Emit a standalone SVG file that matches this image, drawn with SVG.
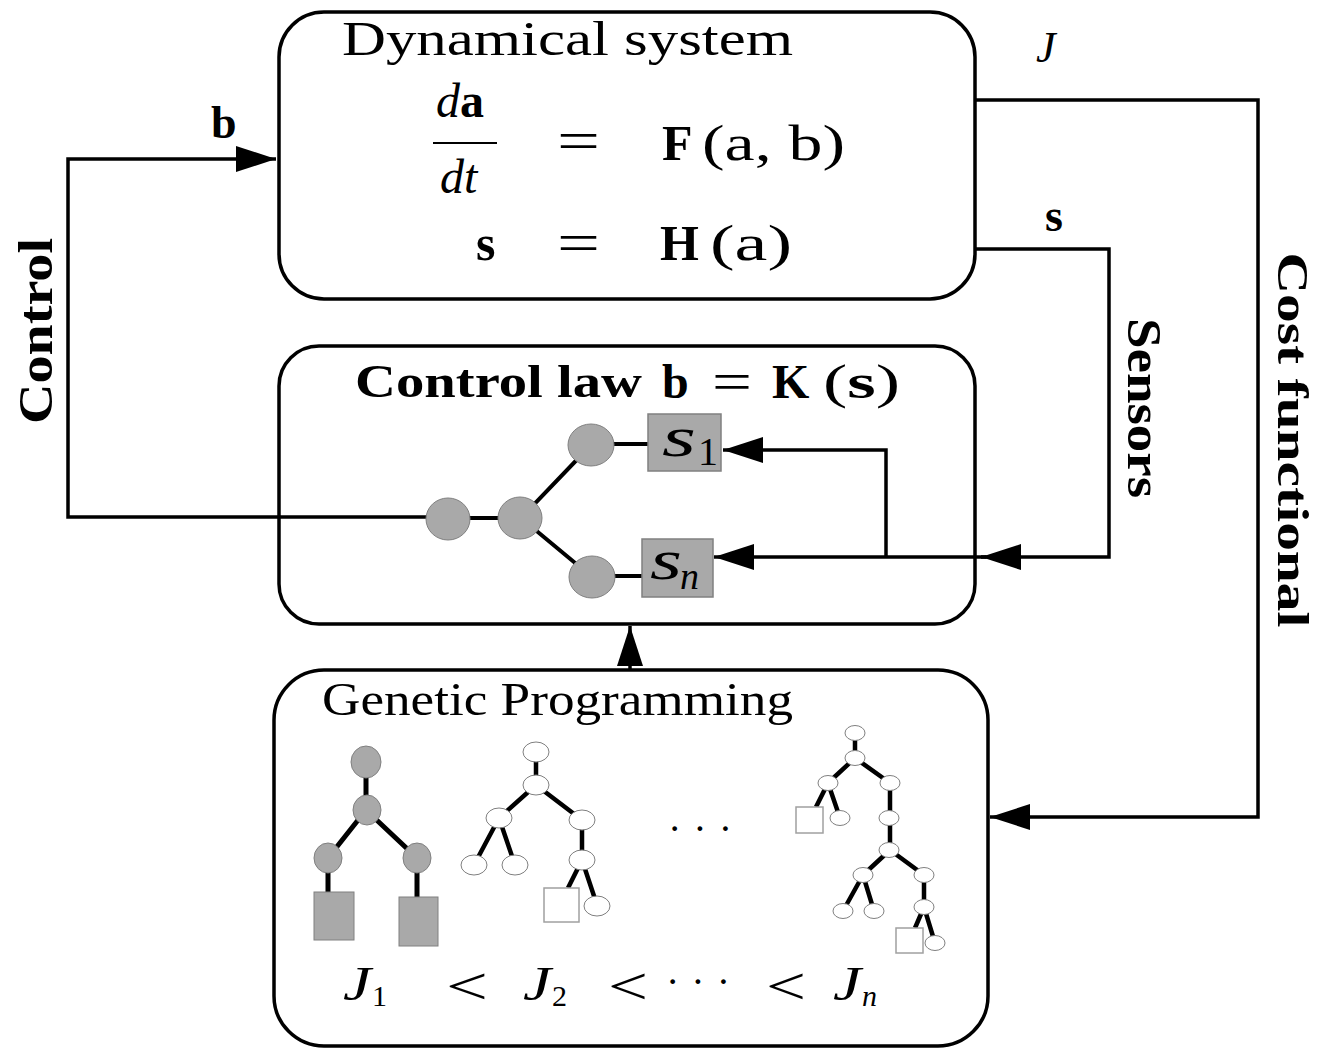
<svg xmlns="http://www.w3.org/2000/svg" width="1317" height="1048" viewBox="0 0 1317 1048">
<style>
.box{fill:none;stroke:#000;stroke-width:3.5}
.con{fill:none;stroke:#000;stroke-width:3.5}
.t{font-family:"Liberation Serif","Times New Roman",serif;fill:#000}
.b{font-weight:bold}
.i{font-style:italic}
.gn{fill:#a9a9a9;stroke:#808080;stroke-width:1}
.wn{fill:#fff;stroke:#808080;stroke-width:1}
.ws{fill:#fff;stroke:#a0a0a0;stroke-width:1.5}
.e1{stroke:#000;stroke-width:4;fill:none}
.e2{stroke:#000;stroke-width:5;fill:none}
.e3{stroke:#000;stroke-width:4.5;fill:none}
</style>
<defs>
<marker id="ah" viewBox="0 0 40 26" refX="40" refY="13" markerUnits="userSpaceOnUse" markerWidth="40" markerHeight="26" orient="auto">
<path d="M0,0 L40,13 L0,26 z" fill="#000"/>
</marker>
</defs>
<rect width="1317" height="1048" fill="#fff"/>

<g id="connectors">
<path class="con" d="M449,517 H68 V159 H276" marker-end="url(#ah)"/>
<path class="con" d="M975,100 H1258 V817 H990" marker-end="url(#ah)"/>
<path class="con" d="M975,249 H1109 V557 H981" marker-end="url(#ah)"/>
<path class="con" d="M986,557 H714" marker-end="url(#ah)"/>
<path class="con" d="M886,557 V450 H723" marker-end="url(#ah)"/>
<path class="con" d="M630,670 V626" marker-end="url(#ah)"/>
</g>

<g id="labels">
<text class="t b" x="211" y="138" font-size="46">b</text>
<text class="t i" x="1036" y="62" font-size="44">J</text>
<text class="t b" x="1045" y="231" font-size="46">s</text>
<text class="t b" font-size="48" text-anchor="middle" transform="translate(52,331) rotate(-90)" textLength="186" lengthAdjust="spacingAndGlyphs">Control</text>
<text class="t b" font-size="48" text-anchor="middle" transform="translate(1128,408) rotate(90)" textLength="180" lengthAdjust="spacingAndGlyphs">Sensors</text>
<text class="t b" font-size="45" text-anchor="middle" transform="translate(1278,440) rotate(90)" textLength="375" lengthAdjust="spacingAndGlyphs">Cost functional</text>
</g>

<g id="dynamical-system">
<rect class="box" x="279" y="12" width="696" height="287" rx="45" ry="45"/>
<text class="t" x="342" y="55" font-size="48" textLength="451" lengthAdjust="spacingAndGlyphs">Dynamical system</text>
<text class="t" x="436" y="117" font-size="48"><tspan class="i">d</tspan><tspan class="b">a</tspan></text>
<line x1="433" y1="143" x2="497" y2="143" stroke="#000" stroke-width="2"/>
<text class="t i" x="440" y="193" font-size="48">dt</text>
<text class="t" x="557" y="160" font-size="56" textLength="43" lengthAdjust="spacingAndGlyphs">=</text>
<text class="t b" x="662" y="160" font-size="50">F</text>
<text class="t" x="702" y="160" font-size="50" textLength="143" lengthAdjust="spacingAndGlyphs">(a, b)</text>
<text class="t b" x="476" y="260" font-size="50">s</text>
<text class="t" x="557" y="262" font-size="56" textLength="43" lengthAdjust="spacingAndGlyphs">=</text>
<text class="t b" x="660" y="260" font-size="50">H</text>
<text class="t" x="710" y="260" font-size="50" textLength="82" lengthAdjust="spacingAndGlyphs">(a)</text>
</g>

<g id="control-law">
<rect class="box" x="279" y="346" width="696" height="278" rx="40" ry="40"/>
<text class="t b" x="355" y="397" font-size="46" textLength="287" lengthAdjust="spacingAndGlyphs">Control law</text>
<text class="t b" x="662" y="398" font-size="48">b</text>
<text class="t" x="712" y="400" font-size="54" textLength="40" lengthAdjust="spacingAndGlyphs">=</text>
<text class="t b" x="772" y="398" font-size="48">K</text>
<text class="t" x="823" y="398" font-size="48" textLength="77" lengthAdjust="spacingAndGlyphs">(<tspan class="b">s</tspan>)</text>
<path class="e1" d="M449,518 H521 M521,518 L591,445 M521,518 L592,577 M591,444 H648 M592,576 H642"/>
<ellipse class="gn" cx="448" cy="519" rx="22" ry="21"/>
<ellipse class="gn" cx="520" cy="518" rx="22" ry="21"/>
<ellipse class="gn" cx="591" cy="445" rx="23" ry="21"/>
<ellipse class="gn" cx="592" cy="577" rx="23" ry="21"/>
<rect x="648" y="414" width="73" height="57" fill="#a9a9a9" stroke="#808080" stroke-width="1.5"/>
<text class="t i" x="662" y="456" font-size="58" textLength="34" lengthAdjust="spacingAndGlyphs">s</text>
<text class="t" x="698" y="465" font-size="40">1</text>
<rect x="642" y="539" width="71" height="58" fill="#a9a9a9" stroke="#808080" stroke-width="1.5"/>
<text class="t i" x="650" y="579" font-size="58" textLength="32" lengthAdjust="spacingAndGlyphs">s</text>
<text class="t i" x="680" y="589" font-size="38">n</text>
</g>

<g id="genetic-programming">
<rect class="box" x="274" y="670" width="714" height="376" rx="50" ry="50"/>
<text class="t" x="322" y="715" font-size="46" textLength="471" lengthAdjust="spacingAndGlyphs">Genetic Programming</text>
<!-- tree 1 -->
<path class="e2" d="M366,762 V810 M366,810 L328,858 M366,810 L417,858 M328,858 V892 M417,858 V897"/>
<ellipse class="gn" cx="366" cy="762" rx="15" ry="16"/>
<ellipse class="gn" cx="367" cy="810" rx="14" ry="15"/>
<ellipse class="gn" cx="328" cy="858" rx="14" ry="15"/>
<ellipse class="gn" cx="417" cy="858" rx="14" ry="15"/>
<rect class="gn" x="314" y="892" width="40" height="48"/>
<rect class="gn" x="399" y="897" width="39" height="49"/>
<!-- tree 2 -->
<path class="e3" d="M536,752 V785 M536,785 L499,818 M536,785 L582,820 M499,818 L474,865 M499,818 L515,865 M582,820 V860 M582,860 L568,888 M582,860 L597,905"/>
<ellipse class="wn" cx="536" cy="752" rx="13" ry="10"/>
<ellipse class="wn" cx="536" cy="785" rx="13" ry="10"/>
<ellipse class="wn" cx="499" cy="818" rx="13" ry="10"/>
<ellipse class="wn" cx="582" cy="820" rx="13" ry="10"/>
<ellipse class="wn" cx="474" cy="865" rx="13" ry="10"/>
<ellipse class="wn" cx="515" cy="865" rx="13" ry="10"/>
<ellipse class="wn" cx="582" cy="860" rx="13" ry="10"/>
<rect class="ws" x="544" y="888" width="35" height="34"/>
<ellipse class="wn" cx="597" cy="906" rx="13" ry="10"/>
<!-- dots -->
<text class="t" x="668" y="842" font-size="40" textLength="64" lengthAdjust="spacing">···</text>
<!-- tree 3 -->
<path class="e3" d="M855,733 V758 M855,758 L828,783 M855,758 L890,783 M828,783 L816,807 M828,783 L840,818 M890,783 V850 M890,850 L863,875 M890,850 L924,875 M863,875 L843,911 M863,875 L874,911 M924,875 V907 M924,907 L915,928 M924,907 L935,943"/>
<ellipse class="wn" cx="855" cy="733" rx="10" ry="7.5"/>
<ellipse class="wn" cx="855" cy="758" rx="10" ry="7.5"/>
<ellipse class="wn" cx="828" cy="783" rx="10" ry="7.5"/>
<ellipse class="wn" cx="890" cy="783" rx="10" ry="7.5"/>
<rect class="ws" x="796" y="807" width="27" height="26"/>
<ellipse class="wn" cx="840" cy="818" rx="10" ry="7.5"/>
<ellipse class="wn" cx="889" cy="818" rx="10" ry="7.5"/>
<ellipse class="wn" cx="889" cy="850" rx="10" ry="7.5"/>
<ellipse class="wn" cx="863" cy="875" rx="10" ry="7.5"/>
<ellipse class="wn" cx="924" cy="875" rx="10" ry="7.5"/>
<ellipse class="wn" cx="843" cy="911" rx="10" ry="7.5"/>
<ellipse class="wn" cx="874" cy="911" rx="10" ry="7.5"/>
<ellipse class="wn" cx="924" cy="907" rx="10" ry="7.5"/>
<rect class="ws" x="896" y="928" width="27" height="25"/>
<ellipse class="wn" cx="935" cy="943" rx="10" ry="7.5"/>
<!-- costs -->
<text class="t i" x="343" y="1000" font-size="48" textLength="28" lengthAdjust="spacingAndGlyphs">J</text>
<text class="t" x="372" y="1006" font-size="30">1</text>
<text class="t" x="446" y="1004" font-size="52" textLength="42" lengthAdjust="spacingAndGlyphs">&lt;</text>
<text class="t i" x="523" y="1000" font-size="48" textLength="28" lengthAdjust="spacingAndGlyphs">J</text>
<text class="t" x="552" y="1006" font-size="30">2</text>
<text class="t" x="608" y="1004" font-size="52" textLength="40" lengthAdjust="spacingAndGlyphs">&lt;</text>
<text class="t" x="666" y="995" font-size="40" textLength="64" lengthAdjust="spacing">···</text>
<text class="t" x="766" y="1004" font-size="52" textLength="40" lengthAdjust="spacingAndGlyphs">&lt;</text>
<text class="t i" x="833" y="1000" font-size="48" textLength="28" lengthAdjust="spacingAndGlyphs">J</text>
<text class="t i" x="862" y="1006" font-size="30">n</text>
</g>
</svg>
